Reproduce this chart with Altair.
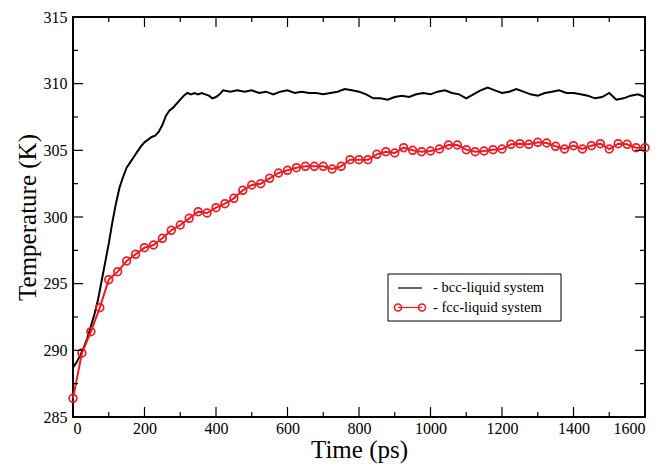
import altair as alt
import pandas as pd

# ---- data ----
bcc_t = [0, 10, 20, 30, 40, 50, 60, 70, 80, 90, 100, 110, 120, 130, 140, 150, 160, 170, 180, 190,
         200, 210, 220, 230, 240, 250, 260, 270, 280, 290, 300, 310, 320, 330, 340, 350, 360, 370,
         380, 390, 400, 410, 420, 440, 460, 480, 500, 520, 540, 560, 580, 600, 620, 640, 660, 680,
         700, 720, 740, 760, 780, 800, 820, 840, 860, 880, 900, 920, 940, 960, 980, 1000, 1020,
         1040, 1060, 1080, 1100, 1120, 1140, 1160, 1180, 1200, 1220, 1240, 1260, 1280, 1300, 1320,
         1340, 1360, 1380, 1400, 1420, 1440, 1460, 1480, 1500, 1520, 1540, 1560, 1580, 1600]
bcc_T = [288.7, 289.1, 289.6, 290.2, 290.9, 291.8, 292.7, 293.8, 295.2, 296.6, 298.0, 299.6, 301.0,
         302.2, 303.0, 303.7, 304.1, 304.5, 304.9, 305.3, 305.6, 305.8, 306.0, 306.1, 306.4, 306.9,
         307.6, 308.0, 308.2, 308.5, 308.8, 309.1, 309.3, 309.2, 309.3, 309.2, 309.3, 309.2, 309.1,
         308.9, 309.0, 309.2, 309.5, 309.4, 309.5, 309.4, 309.5, 309.3, 309.4, 309.2, 309.4, 309.5,
         309.3, 309.4, 309.3, 309.3, 309.2, 309.3, 309.4, 309.6, 309.5, 309.4, 309.2, 308.9, 308.9,
         308.8, 309.0, 309.1, 309.0, 309.2, 309.3, 309.2, 309.4, 309.5, 309.3, 309.2, 308.9, 309.2,
         309.5, 309.7, 309.5, 309.3, 309.4, 309.6, 309.4, 309.2, 309.1, 309.3, 309.4, 309.5, 309.3,
         309.3, 309.2, 309.1, 308.9, 309.0, 309.3, 308.8, 308.9, 309.1, 309.2, 309.0]

fcc_t = list(range(0, 1601, 25))
fcc_T = [286.4, 289.8, 291.4, 293.2, 295.3, 295.9, 296.7, 297.2, 297.7, 297.9, 298.4, 299.0, 299.4,
         299.9, 300.4, 300.3, 300.7, 301.0, 301.4, 302.0, 302.4, 302.5, 302.9, 303.3, 303.5, 303.7,
         303.8, 303.8, 303.8, 303.6, 303.8, 304.3, 304.3, 304.3, 304.7, 304.9, 304.8, 305.2, 305.0,
         304.9, 304.95, 305.1, 305.4, 305.4, 305.05, 304.9, 304.95, 305.05, 305.1, 305.45, 305.5,
         305.45, 305.6, 305.55, 305.3, 305.1, 305.35, 305.1, 305.35, 305.5, 305.1, 305.5, 305.45,
         305.2, 305.2]

series_names = ["- bcc-liquid system", "- fcc-liquid system"]
x_major = list(range(0, 1601, 200))
x_minor = list(range(100, 1600, 200))
y_major = [285, 290, 295, 300, 305, 310, 315]
y_minor = [287.5, 292.5, 297.5, 302.5, 307.5, 312.5]

RED = "#ed1c24"
FONT = "Liberation Serif"
W, H = 572, 400

bcc = pd.DataFrame({"t": bcc_t, "T": bcc_T})
fcc = pd.DataFrame({"t": fcc_t, "T": fcc_T})

xs = alt.Scale(domain=[0, 1600], nice=False, zero=False)
ys = alt.Scale(domain=[285, 315], nice=False, zero=False)

common = dict(grid=False, domain=False, ticks=False, tickSize=0,
              labelFont=FONT, labelFontSize=16, labelColor="black",
              titleFont=FONT, titleFontSize=25, titleFontWeight="normal", titleColor="black")
xaxis = alt.Axis(values=x_major, format="d", labelPadding=3, title="Time (ps)",
                 titlePadding=1, **common)
yaxis = alt.Axis(values=y_major, format="d", labelPadding=6, title="Temperature (K)",
                 titlePadding=3, **common)

base_bcc = alt.Chart(bcc).mark_line(color="black", strokeWidth=2).encode(
    x=alt.X("t:Q", scale=xs, axis=xaxis),
    y=alt.Y("T:Q", scale=ys, axis=yaxis),
)
red_line = alt.Chart(fcc).mark_line(color=RED, strokeWidth=2).encode(
    x=alt.X("t:Q", scale=xs, axis=xaxis), y=alt.Y("T:Q", scale=ys, axis=yaxis))
red_pts = alt.Chart(fcc).mark_point(shape="circle", color=RED, filled=False, size=60,
                                    strokeWidth=1.7, opacity=1).encode(
    x=alt.X("t:Q", scale=xs, axis=xaxis), y=alt.Y("T:Q", scale=ys, axis=yaxis))

# inward ticks (grace style) on all four sides
def xticks(vals, length):
    df = pd.DataFrame({"v": vals})
    bot = alt.Chart(df).mark_rule(color="black", strokeWidth=1.2).encode(
        x=alt.X("v:Q", scale=xs, axis=xaxis), y=alt.value(H), y2=alt.value(H - length))
    top = alt.Chart(df).mark_rule(color="black", strokeWidth=1.2).encode(
        x=alt.X("v:Q", scale=xs, axis=xaxis), y=alt.value(0), y2=alt.value(length))
    return [bot, top]

def yticks(vals, length):
    df = pd.DataFrame({"v": vals})
    left = alt.Chart(df).mark_rule(color="black", strokeWidth=1.2).encode(
        y=alt.Y("v:Q", scale=ys, axis=yaxis), x=alt.value(0), x2=alt.value(length))
    right = alt.Chart(df).mark_rule(color="black", strokeWidth=1.2).encode(
        y=alt.Y("v:Q", scale=ys, axis=yaxis), x=alt.value(W), x2=alt.value(W - length))
    return [left, right]

ticks = xticks(x_major, 10) + xticks(x_minor, 5) + yticks(y_major, 10) + yticks(y_minor, 5)

one = pd.DataFrame({"a": [0]})
# legend box
leg_box = alt.Chart(one).mark_rect(fill="white", stroke="black", strokeWidth=1).encode(
    x=alt.value(315), x2=alt.value(488), y=alt.value(257), y2=alt.value(304))
leg_black = alt.Chart(one).mark_rule(color="black", strokeWidth=1.2).encode(
    x=alt.value(325), x2=alt.value(349), y=alt.value(271))
leg_red = alt.Chart(one).mark_rule(color=RED, strokeWidth=1.2).encode(
    x=alt.value(325), x2=alt.value(349), y=alt.value(290.5))
leg_c1 = alt.Chart(one).mark_point(
    shape="circle", color=RED, filled=False, size=50, strokeWidth=1.6, opacity=1).encode(
    x=alt.value(325), y=alt.value(290.5))
leg_c2 = alt.Chart(one).mark_point(
    shape="circle", color=RED, filled=False, size=50, strokeWidth=1.6, opacity=1).encode(
    x=alt.value(349), y=alt.value(290.5))
leg_txt1 = alt.Chart(pd.DataFrame({"s": [series_names[0]]})).mark_text(
    align="left", baseline="middle", font=FONT, fontSize=14.5, color="black").encode(
    text="s:N", x=alt.value(360), y=alt.value(271))
leg_txt2 = alt.Chart(pd.DataFrame({"s": [series_names[1]]})).mark_text(
    align="left", baseline="middle", font=FONT, fontSize=14.5, color="black").encode(
    text="s:N", x=alt.value(360), y=alt.value(290.5))

chart = alt.layer(
    base_bcc, red_line, red_pts, *ticks,
    leg_box, leg_black, leg_red, leg_c1, leg_c2, leg_txt1, leg_txt2,
).properties(
    width=W, height=H,
    background="white",
    autosize=alt.AutoSizeParams(type="none"),
    padding={"left": 65, "top": 9, "right": 10, "bottom": 47},
).configure_axis(
    **common
).configure_view(
    stroke="black", strokeWidth=2
)

chart.save("out.html", embed_options={"renderer": "svg", "actions": False})
